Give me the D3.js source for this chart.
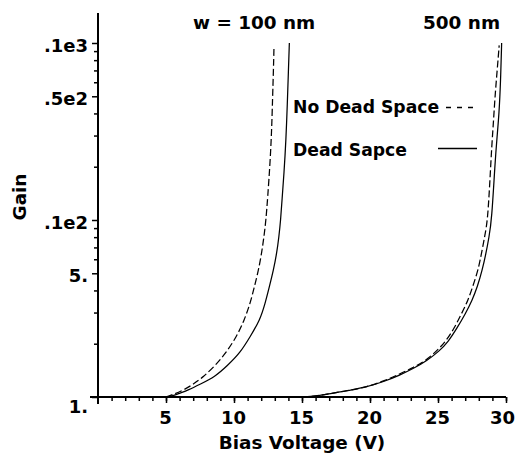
<!DOCTYPE html>
<html>
<head>
<meta charset="utf-8">
<script src="https://cdn.jsdelivr.net/npm/d3@7"></script>
<style>
  html, body { margin: 0; padding: 0; background: #fff; }
  svg { display: block; }
  text { font-family: "DejaVu Sans", sans-serif; font-weight: bold; fill: #000; }
</style>
</head>
<body>
<svg id="chart" width="516" height="460"></svg>
<script>
// ---- data ----
const v100NoDS = [5.0, 5.5, 6.3, 7.0, 7.75, 8.6, 9.4, 10.2, 10.76, 11.2, 11.5, 11.8, 12.03, 12.2, 12.35, 12.48, 12.65, 12.77, 12.84, 12.9, 12.94];
const g100NoDS = [1.0, 1.03, 1.095, 1.18, 1.30, 1.5, 1.77, 2.2, 2.72, 3.4, 4.2, 5.2, 6.5, 8.0, 10, 13.5, 20.9, 32, 50, 70, 95];

const v100DS = [5.0, 5.6, 6.0, 6.64, 7.5, 8.6, 9.5, 10.44, 11.2, 11.91, 12.3, 12.6, 12.9, 13.14, 13.3, 13.43, 13.53, 13.68, 13.82, 13.92, 14.0, 14.07];
const g100DS = [1.0, 1.02, 1.05, 1.095, 1.18, 1.30, 1.5, 1.77, 2.2, 2.72, 3.4, 4.2, 5.2, 6.48, 8.0, 10, 13, 18.4, 28.3, 45, 69, 100];

const v500NoDS = [15.0, 16.0, 17.18, 18.5, 19.75, 21.0, 22.2, 23.2, 24.17, 25.0, 25.6, 26.2, 26.74, 27.2, 27.55, 27.95, 28.2, 28.45, 28.65, 28.82, 28.95, 29.08, 29.19, 29.35, 29.5];
const g500NoDS = [1.0, 1.01, 1.05, 1.09, 1.14, 1.23, 1.35, 1.47, 1.62, 1.85, 2.08, 2.45, 2.97, 3.5, 4.2, 5.2, 6.48, 8.2, 10, 16.8, 26, 36, 49.7, 70, 97];

const v500DS = [15.0, 16.0, 17.18, 18.5, 19.75, 21.0, 22.2, 23.2, 24.17, 25.1, 25.75, 26.4, 27.03, 27.5, 27.9, 28.25, 28.53, 28.75, 28.95, 29.19, 29.35, 29.49, 29.6, 29.68];
const g500DS = [1.0, 1.01, 1.05, 1.09, 1.14, 1.22, 1.33, 1.45, 1.6, 1.82, 2.05, 2.45, 2.97, 3.5, 4.2, 5.2, 6.48, 8.0, 10, 20.9, 30, 40, 60, 100];

const xMajorTicks = [5, 10, 15, 20, 25, 30];
const xMajorLabels = ["5", "10", "15", "20", "25", "30"];
const xMinorTicks = d3.range(1, 31);
const yMajorTicks = [1, 5, 10, 50, 100];
const yMajorLabels = ["1.", "5.", ".1e2", ".5e2", ".1e3"];
const yMinorTicks = [2, 3, 4, 6, 7, 8, 9, 20, 30, 40, 60, 70, 80, 90];

const seriesNames = ["No Dead Space", "Dead Sapce"];
const sizeLabels = ["w = 100 nm", "500 nm"];
const xTitle = "Bias Voltage (V)";
const yTitle = "Gain";

// ---- drawing ----
const svg = d3.select("#chart");
const x = d3.scaleLinear().domain([0, 30]).range([98, 506]);
const y = d3.scaleLog().domain([1, 100]).range([397, 43]);

const zip = (vs, gs) => vs.map((v, i) => ({ v, g: gs[i] }));
const line = d3.line().x(d => x(d.v)).y(d => y(d.g)).curve(d3.curveBasis);

const curves = [
  { data: zip(v100NoDS, g100NoDS), dash: "7,3" },
  { data: zip(v100DS, g100DS), dash: null },
  { data: zip(v500NoDS, g500NoDS), dash: "7,3" },
  { data: zip(v500DS, g500DS), dash: null }
];
svg.append("g").selectAll("path").data(curves).join("path")
  .attr("d", d => line(d.data))
  .attr("fill", "none")
  .attr("stroke", "#000")
  .attr("stroke-width", 1.25)
  .attr("stroke-dasharray", d => d.dash);

// axes lines
svg.append("line").attr("x1", 90).attr("x2", x(30)).attr("y1", y(1)).attr("y2", y(1))
  .attr("stroke", "#000").attr("stroke-width", 2);
svg.append("line").attr("x1", x(0)).attr("x2", x(0)).attr("y1", 13).attr("y2", 404)
  .attr("stroke", "#000").attr("stroke-width", 2);

// x ticks
const gx = svg.append("g").attr("transform", `translate(0,${y(1)})`);
gx.append("g").call(d3.axisBottom(x).tickValues(xMinorTicks).tickSize(4).tickFormat(""))
  .call(g => g.select(".domain").remove());
gx.append("g").call(d3.axisBottom(x).tickValues(xMajorTicks).tickSize(6).tickPadding(8)
    .tickFormat((d, i) => xMajorLabels[i]))
  .call(g => g.select(".domain").remove());
gx.selectAll("line").attr("stroke", "#000").attr("stroke-width", 1.5);
gx.selectAll("text").attr("font-size", 18).attr("font-family", "DejaVu Sans").attr("font-weight", "bold")
  .attr("dx", d => d === 30 ? -4 : -1);

// y ticks
const gy = svg.append("g").attr("transform", `translate(${x(0)},0)`);
gy.append("g").call(d3.axisLeft(y).tickValues(yMinorTicks).tickSize(4).tickFormat(""))
  .call(g => g.select(".domain").remove());
gy.append("g").call(d3.axisLeft(y).tickValues(yMajorTicks).tickSize(6).tickPadding(4)
    .tickFormat((d, i) => yMajorLabels[i]))
  .call(g => g.select(".domain").remove());
gy.selectAll("line").attr("stroke", "#000").attr("stroke-width", 1.5);
gy.selectAll("text").attr("font-size", 18).attr("font-family", "DejaVu Sans").attr("font-weight", "bold")
  .attr("dy", d => d === 1 ? "0.87em" : "0.45em");

// axis titles
svg.append("text").attr("x", (x(0) + x(30)) / 2).attr("y", 449).attr("text-anchor", "middle")
  .attr("font-size", 18.4).text(xTitle);
svg.append("text").attr("transform", "translate(26,197) rotate(-90)").attr("text-anchor", "middle")
  .attr("font-size", 18.4).text(yTitle);

// size annotations
svg.append("text").attr("x", 193).attr("y", 29).attr("font-size", 18.4).text(sizeLabels[0]);
svg.append("text").attr("x", 423).attr("y", 29).attr("font-size", 18.4).text(sizeLabels[1]);

// legend
svg.append("text").attr("x", 293).attr("y", 113).attr("font-size", 17.2).text(seriesNames[0]);
svg.append("text").attr("x", 293).attr("y", 156).attr("font-size", 17.2).text(seriesNames[1]);
svg.append("line").attr("x1", 446).attr("x2", 477).attr("y1", 107.5).attr("y2", 107.5)
  .attr("stroke", "#000").attr("stroke-width", 1.4).attr("stroke-dasharray", "5,6");
svg.append("line").attr("x1", 438).attr("x2", 477).attr("y1", 148.5).attr("y2", 148.5)
  .attr("stroke", "#000").attr("stroke-width", 1.4);
</script>
</body>
</html>
